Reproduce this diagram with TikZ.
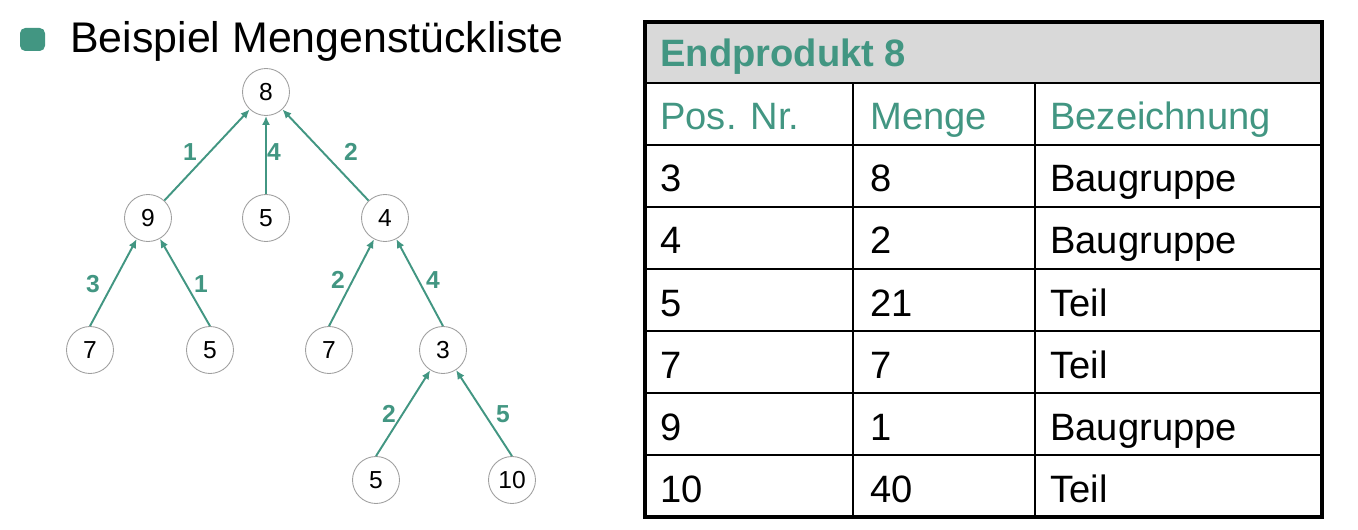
\documentclass[tikz,border=0pt]{standalone}
\usepackage{fontspec}
\setmainfont{Liberation Sans}
\usetikzlibrary{arrows.meta}
\usepackage{xcolor}
\definecolor{petrol}{RGB}{66,150,130}
\definecolor{kopfgrau}{RGB}{217,217,217}

\begin{document}
\begin{tikzpicture}[x=0.02cm, y=-0.02cm,
    teil/.style = {circle, draw=gray!75, line width=0.5pt, minimum size=0.94cm, inner sep=0pt, font=\fontsize{14}{16}\selectfont},
    pfeil/.style = {draw=petrol, line width=1.1pt, -{Latex[length=1.8mm, width=1.6mm]}},
    anzahl/.style = {text=petrol, inner sep=0pt, font=\fontsize{14}{16}\selectfont\bfseries},
    zelle/.style = {anchor=base west, inner sep=0pt, font=\fontsize{21.7}{26}\selectfont}]
        \useasboundingbox (0,0) rectangle (1358,530);

        % Ueberschrift
        \begin{scope}
            \fill[petrol, rounded corners=3pt] (20,28) rectangle (45,51);
            \node[anchor=base west, inner sep=0pt, font=\fontsize{24.4}{28}\selectfont] (titel) at (70,53) {Beispiel Mengenstückliste};
        \end{scope}

        % Baum
        \begin{scope}
            \node[teil] (p8) at (266,92) {8};
            \node[teil] (p9) at (148,218) {9};
            \node[teil] (p5a) at (266,218) {5};
            \node[teil] (p4) at (385,218) {4};
            \node[teil] (p7a) at (90,350) {7};
            \node[teil] (p5b) at (210,350) {5};
            \node[teil] (p7b) at (329,350) {7};
            \node[teil] (p3) at (443,350) {3};
            \node[teil] (p5c) at (376,480) {5};
            \node[teil] (p10) at (512,480) {10};

            \draw[pfeil] (p9) -- (p8);
            \draw[pfeil] (p5a) -- (p8);
            \draw[pfeil] (p4) -- (p8);
            \draw[pfeil] (p7a.north) -- (p9);
            \draw[pfeil] (p5b.north) -- (p9);
            \draw[pfeil] (p7b.north) -- (p4);
            \draw[pfeil] (p3.north) -- (p4);
            \draw[pfeil] (p5c.north) -- (p3);
            \draw[pfeil] (p10.north) -- (p3);

            \node[anzahl] (m98) at (190,152) {1};
            \node[anzahl] (m58) at (274,152) {4};
            \node[anzahl] (m48) at (351,152) {2};
            \node[anzahl] (m79) at (93,284) {3};
            \node[anzahl] (m59) at (201,284) {1};
            \node[anzahl] (m74) at (338,280) {2};
            \node[anzahl] (m34) at (433,280) {4};
            \node[anzahl] (m53) at (389,414) {2};
            \node[anzahl] (m103) at (503,414) {5};
        \end{scope}

        % Tabelle
        \begin{scope}
            \fill[kopfgrau] (645,22) rectangle (1322,83);
            \foreach \y in {83,145,207,269,331,393,455}
                \draw[line width=1.2pt] (645,\y) -- (1322,\y);
            \draw[line width=1.2pt] (853,83) -- (853,517);
            \draw[line width=1.2pt] (1035,83) -- (1035,517);
            \draw[line width=2pt] (645,22) rectangle (1322,517);

            \node[zelle, text=petrol, font=\fontsize{21.7}{26}\selectfont\bfseries] (kopf) at (660,67) {Endprodukt 8};
            \node[zelle, text=petrol] (hpos) at (660,130) {Pos. Nr.};
            \node[zelle, text=petrol] (hmenge) at (870,130) {Menge};
            \node[zelle, text=petrol] (hbez) at (1050,130) {Bezeichnung};

            \node[zelle] (pos3) at (660,192) {3};
            \node[zelle] (menge3) at (870,192) {8};
            \node[zelle] (bez3) at (1050,192) {Baugruppe};
            \node[zelle] (pos4) at (660,254) {4};
            \node[zelle] (menge4) at (870,254) {2};
            \node[zelle] (bez4) at (1050,254) {Baugruppe};
            \node[zelle] (pos5) at (660,316) {5};
            \node[zelle] (menge5) at (870,316) {21};
            \node[zelle] (bez5) at (1050,316) {Teil};
            \node[zelle] (pos7) at (660,378) {7};
            \node[zelle] (menge7) at (870,378) {7};
            \node[zelle] (bez7) at (1050,378) {Teil};
            \node[zelle] (pos9) at (660,440) {9};
            \node[zelle] (menge9) at (870,440) {1};
            \node[zelle] (bez9) at (1050,440) {Baugruppe};
            \node[zelle] (pos10) at (660,502) {10};
            \node[zelle] (menge10) at (870,502) {40};
            \node[zelle] (bez10) at (1050,502) {Teil};
        \end{scope}
    \end{tikzpicture}
\end{document}
